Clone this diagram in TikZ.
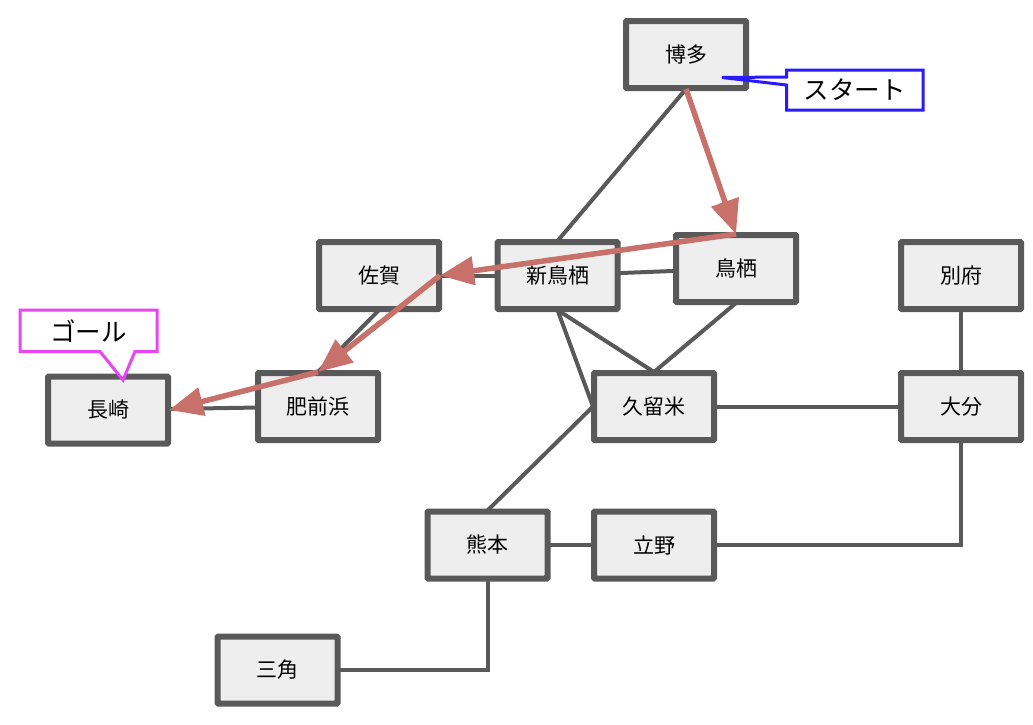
\documentclass[tikz,border=0pt]{standalone}
\usepackage{fontspec}
\setmainfont{Noto Sans CJK JP}
\usetikzlibrary{arrows.meta}
\definecolor{boxline}{HTML}{595959}
\definecolor{boxfill}{HTML}{EEEEEE}
\definecolor{route}{HTML}{C8706A}
\definecolor{startc}{HTML}{2A1AFF}
\definecolor{goalc}{HTML}{E845F5}
\tikzset{
  station/.style={draw=boxline, fill=boxfill, line width=4pt, rounded corners=1.5pt,
    minimum width=118pt, minimum height=65pt, inner sep=0pt,
    font=\fontsize{21}{23}\selectfont},
  link/.style={draw=boxline, line width=4pt},
  routearrow/.style={draw=route, line width=5.5pt,
    -{Triangle[length=34pt,width=28pt]}, line join=round},
  calloutbox/.style={line width=3pt, fill=white, line join=miter},
  callouttext/.style={font=\fontsize{25.5}{27}\selectfont, inner sep=0pt}
}
\begin{document}
\begin{tikzpicture}[x=1pt,y=-1pt]
\useasboundingbox (0,0) rectangle (1033,724);
\coordinate (c-hakata) at (686,54.5);
\coordinate (c-tosu) at (736,268.5);
\coordinate (c-shin) at (557.5,275.5);
\coordinate (c-saga) at (379,275.5);
\coordinate (c-beppu) at (961,275.5);
\coordinate (c-naga) at (108,410);
\coordinate (c-hizen) at (318,406.5);
\coordinate (c-kuru) at (654,406.5);
\coordinate (c-oita) at (961,406.5);
\coordinate (c-kuma) at (487.5,545);
\coordinate (c-tateno) at (654,545);
\coordinate (c-misumi) at (277.5,670);

\node[station] (hakata) at (c-hakata) {博多};
\node[station] (tosu) at (c-tosu) {鳥栖};
\node[station] (shin) at (c-shin) {新鳥栖};
\node[station] (saga) at (c-saga) {佐賀};
\node[station] (beppu) at (c-beppu) {別府};
\node[station] (naga) at (c-naga) {長崎};
\node[station] (hizen) at (c-hizen) {肥前浜};
\node[station] (kuru) at (c-kuru) {久留米};
\node[station] (oita) at (c-oita) {大分};
\node[station] (kuma) at (c-kuma) {熊本};
\node[station] (tateno) at (c-tateno) {立野};
\node[station] (misumi) at (c-misumi) {三角};

\path[link] (hakata.south) -- (shin.north);
\path[link] (shin) -- (tosu);
\path[link] (shin) -- (saga);
\path[link] (shin.south) -- (kuru.north);
\path[link] (shin.south) -- (kuru.west);
\path[link] (tosu.south) -- (kuru.north);
\path[link] (kuru) -- (oita);
\path[link] (beppu) -- (oita);
\path[link] (oita.south) |- (tateno.east);
\path[link] (kuma) -- (tateno);
\path[link] (kuma.north) -- (kuru.west);
\path[link] (kuma.south) |- (misumi.east);
\path[link] (saga.south) -- (hizen.north);
\path[link] (hizen) -- (naga);

% redraw station borders over link ends
\foreach \n in {hakata,tosu,shin,saga,beppu,naga,hizen,kuru,oita,kuma,tateno,misumi}{
  \draw[draw=boxline, line width=4pt, rounded corners=1.5pt]
    (\n.south west) rectangle (\n.north east);
}

% route
\path[routearrow] (hakata.south) -- (tosu.north);
\path[routearrow] (tosu.north) -- (saga.east);
\path[routearrow] (saga.east) -- (hizen.north);
\path[routearrow] (hizen.north) -- (naga.east);

% start callout
\coordinate (starttip) at (722,77.5);
\draw[calloutbox, draw=startc] (786.5,70) -- (923,70) -- (923,110) -- (786.5,110)
  -- (786.5,85) -- (starttip) -- (786.5,77) -- cycle;
\node[callouttext] (start) at (854.5,90) {スタート};

% goal callout
\coordinate (goaltip) at (123,380);
\draw[calloutbox, draw=goalc] (20,310) -- (157,310) -- (157,351.5) -- (135,351.5)
  -- (goaltip) -- (100,351.5) -- (20,351.5) -- cycle;
\node[callouttext] (goal) at (88.5,331) {ゴール};
\end{tikzpicture}
\end{document}
